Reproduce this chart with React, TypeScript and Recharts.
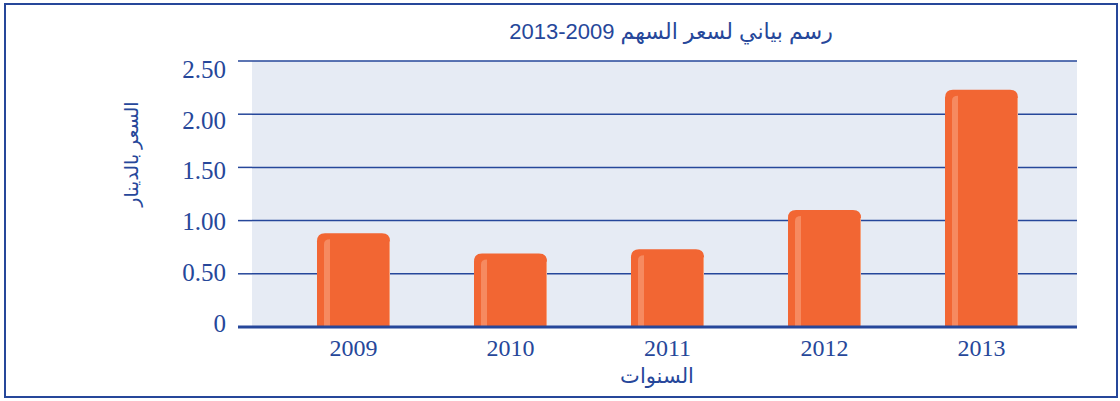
import { Bar, BarChart, CartesianGrid, XAxis, YAxis } from 'recharts'

const years = ['2009', '2010', '2011', '2012', '2013']
const prices = [0.88, 0.69, 0.73, 1.1, 2.23]
const yTicks = [0, 0.5, 1, 1.5, 2, 2.5]
const yTickLabels = ['0', '0.50', '1.00', '1.50', '2.00', '2.50']

const title = 'رسم بياني لسعر السهم 2009-2013'
const yTitle = 'السعر بالدينار'
const xTitle = 'السنوات'

const data = years.map((year, i) => ({ year, price: prices[i] }))

const blue = '#26479a'
const orange = '#f26633'
const serif = '"Liberation Serif", "DejaVu Sans", serif'

function YTick(props: any) {
  const { x, y, payload } = props
  const i = yTicks.indexOf(payload.value)
  const isZero = payload.value === 0
  // labels in the original are spaced a bit tighter than the grid
  const shift = -4 + 4.8 * payload.value
  return (
    <g>
      <line x1={x - 14} x2={x} y1={y} y2={y} stroke={blue} strokeWidth={isZero ? 3 : 1.5} />
      <text x={x - 26} y={y + shift} dy="0.35em" textAnchor="end" fill={blue} fontSize={25} fontFamily={serif}>
        {yTickLabels[i]}
      </text>
    </g>
  )
}

function GlossyBar(props: any) {
  const { x, y, width, height } = props
  if (!height || height <= 0) return null
  const r = 8
  const body = `M${x},${y + height} L${x},${y + r} Q${x},${y} ${x + r},${y} L${x + width - r},${y} Q${x + width},${y} ${x + width},${y + r} L${x + width},${y + height} Z`
  const sx = x + 7
  const sy = y + 6
  const sw = 6
  const shine = `M${sx},${y + height} L${sx},${sy + 5} Q${sx},${sy} ${sx + sw},${sy} L${sx + sw},${y + height} Z`
  return (
    <g>
      <path d={body} fill={orange} />
      <path d={shine} fill="#f68a60" />
      <line x1={x + width - 0.5} x2={x + width - 0.5} y1={y + r} y2={y + height} stroke="#f5a07c" strokeWidth={1} />
    </g>
  )
}

export default function App() {
  return (
    <div style={{ position: 'absolute', left: 0, top: 0, width: 1120, height: 401, background: '#fff' }}>
      <div style={{ position: 'absolute', left: 4, top: 3, width: 1110, height: 391, border: `2.5px solid ${blue}` }} />
      <div
        dir="rtl"
        style={{ position: 'absolute', left: 0, width: 1120, top: 20, textAlign: 'center', paddingLeft: 222, boxSizing: 'border-box', fontFamily: '"Liberation Sans", "DejaVu Sans", sans-serif', fontSize: 22, color: blue, lineHeight: '24px' }}
      >
        {title}
      </div>
      <div
        dir="rtl"
        style={{ position: 'absolute', left: 132 - 60, top: 154 - 14, width: 120, height: 28, lineHeight: '28px', textAlign: 'center', transform: 'rotate(-90deg)', fontFamily: serif, fontSize: 19, color: blue }}
      >
        {yTitle}
      </div>
      <div
        dir="rtl"
        style={{ position: 'absolute', left: 657 - 60, top: 364, width: 120, textAlign: 'center', fontFamily: serif, fontSize: 21, color: blue, lineHeight: '24px' }}
      >
        {xTitle}
      </div>
      <div style={{ position: 'absolute', left: 0, top: 0 }}>
        <BarChart width={1120} height={401} data={data} margin={{ top: 61, right: 43, bottom: 44, left: 0 }}>
          <CartesianGrid horizontal vertical={false} stroke={blue} strokeWidth={1.5} fill="#e6ebf4" fillOpacity={1} />
          <XAxis
            dataKey="year"
            height={30}
            padding={{ left: 23, right: 17 }}
            axisLine={{ stroke: blue, strokeWidth: 3 }}
            tickLine={false}
            tickSize={0}
            tickMargin={12}
            tick={{ fill: blue, fontSize: 24, fontFamily: serif }}
          />
          <YAxis
            width={252}
            domain={[0, 2.5]}
            ticks={yTicks}
            axisLine={false}
            tickLine={false}
            tickSize={0}
            tickMargin={0}
            tick={<YTick />}
          />
          <Bar dataKey="price" barSize={73} shape={<GlossyBar />} isAnimationActive={false} />
        </BarChart>
      </div>
    </div>
  )
}
